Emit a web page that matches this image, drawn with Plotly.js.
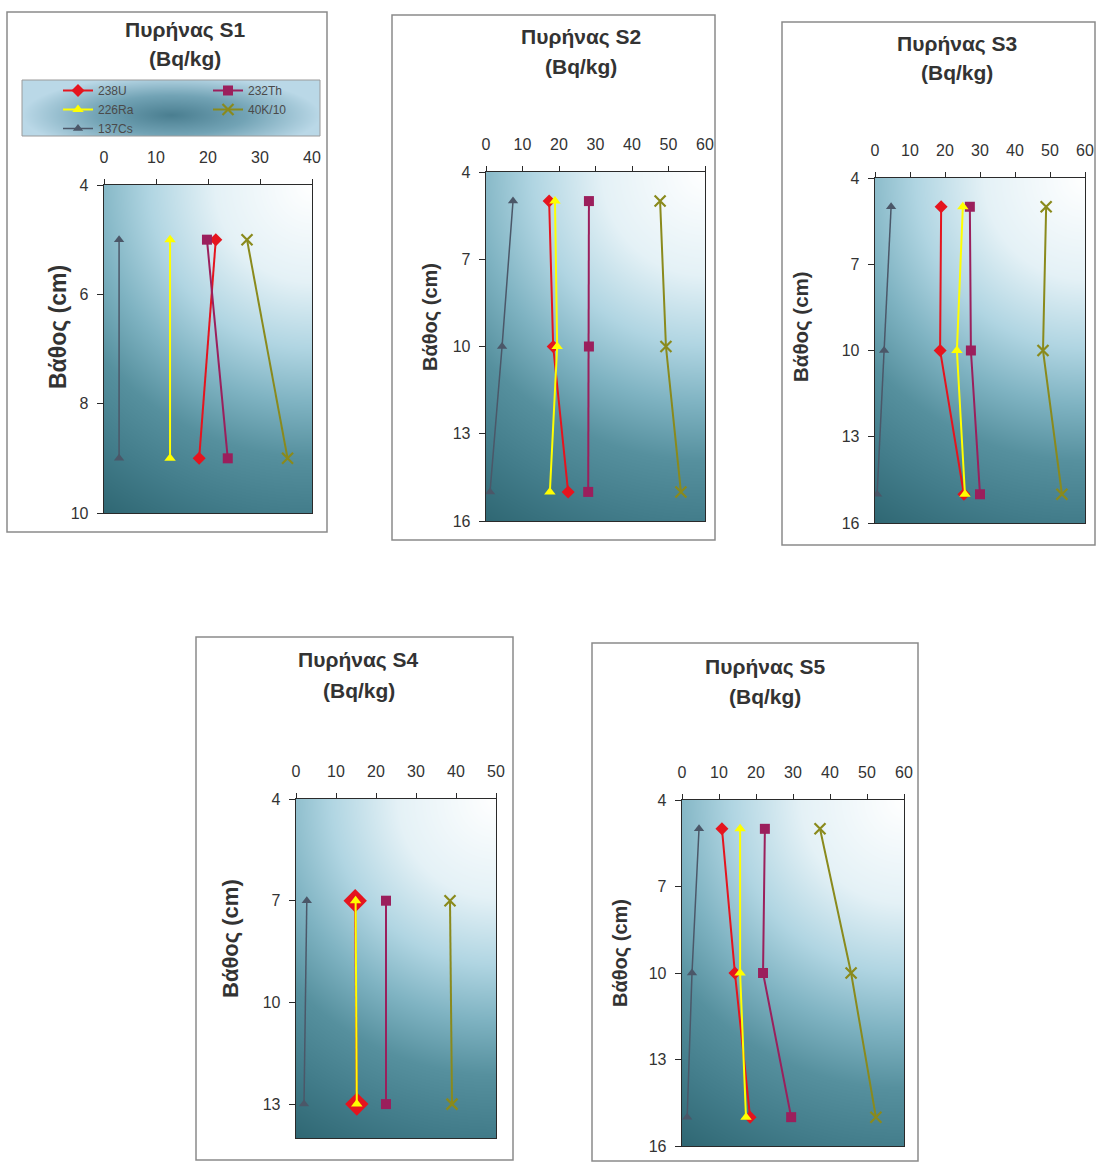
<!DOCTYPE html>
<html>
<head>
<meta charset="utf-8">
<script src="https://cdn.plot.ly/plotly-3.0.1.min.js"></script>
<style>
html,body{margin:0;padding:0;background:#ffffff;}
#chart{width:1097px;height:1162px;}
</style>
</head>
<body>
<div id="chart"></div>
<script>
// ---------------- DATA ----------------
const seriesNames = ["238U", "232Th", "226Ra", "40K/10", "137Cs"];
const panelTitles = ["Πυρήνας S1", "Πυρήνας S2", "Πυρήνας S3", "Πυρήνας S4", "Πυρήνας S5"];
const unitLabel = "(Bq/kg)";
const depthTitle = "Βάθος (cm)";

// depths (cm)
const depthS1 = [5, 9];
const depthS2 = [5, 10, 15];
const depthS3 = [5, 10, 15];
const depthS4 = [7, 13];
const depthS5 = [5, 10, 15];

// activities (Bq/kg), 40K divided by 10
const u238S1 = [21.5, 18.3];
const th232S1 = [19.8, 23.8];
const ra226S1 = [12.7, 12.7];
const k40S1 = [27.5, 35.3];
const cs137S1 = [2.9, 2.9];

const u238S2 = [17.3, 18.4, 22.5];
const th232S2 = [28.2, 28.2, 28.0];
const ra226S2 = [18.9, 19.5, 17.5];
const k40S2 = [47.7, 49.3, 53.4];
const cs137S2 = [7.4, 4.4, 1.1];

const u238S3 = [18.9, 18.6, 25.4];
const th232S3 = [27.1, 27.4, 30.0];
const ra226S3 = [25.1, 23.4, 25.7];
const k40S3 = [48.9, 48.0, 53.4];
const cs137S3 = [4.6, 2.6, 0.6];

const u238S4 = [14.8, 15.2];
const th232S4 = [22.5, 22.5];
const ra226S4 = [14.9, 15.2];
const k40S4 = [38.5, 39.0];
const cs137S4 = [2.7, 2.0];

const u238S5 = [10.8, 14.3, 18.4];
const th232S5 = [22.4, 21.9, 29.5];
const ra226S5 = [15.7, 15.7, 17.3];
const k40S5 = [37.3, 45.7, 52.4];
const cs137S5 = [4.6, 2.7, 1.4];

// axis tick settings
const xMaxes = [40, 60, 60, 50, 60];
const yMaxes = [10, 16, 16, 14, 16];
const yTicksS1 = [4, 6, 8, 10];
const yTicksS2 = [4, 7, 10, 13, 16];
const yTicksS4 = [4, 7, 10, 13];

// ---------------- LAYOUT GEOMETRY (pixels) ----------------
const W = 1097, H = 1162;
const px = x => x / W;
const py = y => 1 - y / H;

const panels = [
  {box:[7,12,327,532],   plot:[104,185,312,513],  tcx:185, t1:30, t2:58, ytx:58,  yty:327, ytsize:23,
   depth:depthS1, vals:[u238S1, th232S1, ra226S1, k40S1, cs137S1], yticks:yTicksS1},
  {box:[392,15,715,540], plot:[486,172,705,521],  tcx:581, t1:37, t2:67, ytx:430, yty:317, ytsize:20,
   depth:depthS2, vals:[u238S2, th232S2, ra226S2, k40S2, cs137S2], yticks:yTicksS2},
  {box:[782,22,1095,545],plot:[875,178,1085,523], tcx:957, t1:44, t2:73, ytx:801, yty:327, ytsize:20.5,
   depth:depthS3, vals:[u238S3, th232S3, ra226S3, k40S3, cs137S3], yticks:yTicksS2},
  {box:[196,637,513,1160],plot:[296,799,496,1138],tcx:359, t1:660, t2:690, ytx:230, yty:939, ytsize:22,
   depth:depthS4, vals:[u238S4, th232S4, ra226S4, k40S4, cs137S4], yticks:yTicksS4},
  {box:[592,643,918,1161],plot:[682,800,904,1146],tcx:765, t1:667, t2:696, ytx:620, yty:953, ytsize:20,
   depth:depthS5, vals:[u238S5, th232S5, ra226S5, k40S5, cs137S5], yticks:yTicksS2}
];

const colors = ["#e5141e", "#9b1f5c", "#ffff00", "#8a8a1c", "#4b5768"];
const symbols = ["diamond", "square", "triangle-up", "x-thin-open", "triangle-up"];
const lineWidths = [2, 2, 2, 2, 1.5];
const legendOf = ["legend", "legend2", "legend", "legend2", "legend"];
const FONT = "Liberation Sans, Arial, sans-serif";

// ---------------- gradient images ----------------
function hexToRgb(h){ return [parseInt(h.slice(1,3),16), parseInt(h.slice(3,5),16), parseInt(h.slice(5,7),16)]; }
function interp(stops, t){
  if (t <= stops[0][0]) return hexToRgb(stops[0][1]);
  for (let i=1;i<stops.length;i++){
    if (t <= stops[i][0]){
      const a = hexToRgb(stops[i-1][1]), b = hexToRgb(stops[i][1]);
      const f = (t - stops[i-1][0]) / (stops[i][0] - stops[i-1][0]);
      return [0,1,2].map(k => Math.round(a[k] + (b[k]-a[k])*f));
    }
  }
  return hexToRgb(stops[stops.length-1][1]);
}
function makeImage(w, h, fn){
  const c = document.createElement("canvas");
  c.width = w; c.height = h;
  const ctx = c.getContext("2d");
  const img = ctx.createImageData(w, h);
  for (let y=0;y<h;y++){
    for (let x=0;x<w;x++){
      const col = fn(x, y, w, h);
      const i = (y*w + x)*4;
      img.data[i]=col[0]; img.data[i+1]=col[1]; img.data[i+2]=col[2]; img.data[i+3]=255;
    }
  }
  ctx.putImageData(img, 0, 0);
  return c.toDataURL("image/png");
}
const plotStops = [[0,"#ffffff"],[0.25,"#e4f1f6"],[0.42,"#b0d5e2"],[0.56,"#7fb3c2"],[0.7,"#56909e"],[0.85,"#427c8a"],[1,"#2f6773"]];
function plotGrad(x, y, w, h){
  const dx = w - x, dy = y;
  const r = Math.sqrt(dx*dx + dy*dy) / Math.sqrt(w*w + h*h);
  return interp(plotStops, r);
}
const legStops = [[0,"#4a7e90"],[0.5,"#72a3b5"],[1,"#bad8e7"]];
function legGrad(x, y, w, h){
  const t = Math.sqrt(Math.pow((x - 0.5*w)/(0.5*w),2) + Math.pow((y - 0.62*h)/(0.7*h),2));
  return interp(legStops, Math.min(1,t));
}

// ---------------- build figure ----------------
const traces = [];
const layout = {
  width: W, height: H, autosize: false,
  margin: {l:0, r:0, t:0, b:0},
  paper_bgcolor: "#ffffff",
  plot_bgcolor: "rgba(0,0,0,0)",
  font: {family: FONT, color: "#333333"},
  showlegend: true,
  shapes: [], annotations: [], images: []
};

panels.forEach((p, i) => {
  const n = i + 1;
  const xa = n === 1 ? "x" : "x" + n;
  const ya = n === 1 ? "y" : "y" + n;
  const [bx0, by0, bx1, by1] = p.box;
  const [x0, y0, x1, y1] = p.plot;

  layout[n === 1 ? "xaxis" : "xaxis" + n] = {
    domain: [px(x0), px(x1)], range: [0, xMaxes[i]], dtick: 10, side: "top", anchor: ya,
    showgrid: false, zeroline: false, showline: true, linecolor: "#2a2a2a", linewidth: 1.3, mirror: true,
    ticks: "outside", ticklen: 5, tickcolor: "#2a2a2a", ticklabelstandoff: 9,
    tickfont: {family: FONT, size: 16, color: "#333333"}, fixedrange: true
  };
  layout[n === 1 ? "yaxis" : "yaxis" + n] = {
    domain: [py(y1), py(y0)], range: [yMaxes[i], 4], tickvals: p.yticks, anchor: xa,
    showgrid: false, zeroline: false, showline: true, linecolor: "#2a2a2a", linewidth: 1.3, mirror: true,
    ticks: "outside", ticklen: 6, tickcolor: "#2a2a2a", ticklabelstandoff: 5,
    tickfont: {family: FONT, size: 16, color: "#333333"}, fixedrange: true
  };

  // panel frame
  layout.shapes.push({type:"rect", xref:"paper", yref:"paper", x0:px(bx0), x1:px(bx1), y0:py(by1), y1:py(by0),
    line:{color:"#8a8a8a", width:1.5}, fillcolor:"rgba(0,0,0,0)", layer:"below"});

  // gradient background of plot area
  layout.images.push({source: makeImage(x1-x0, y1-y0, plotGrad), xref:"paper", yref:"paper",
    x:px(x0), y:py(y0), sizex:px(x1)-px(x0), sizey:py(y0)-py(y1), sizing:"stretch",
    xanchor:"left", yanchor:"top", layer:"below"});

  // titles
  layout.annotations.push({text:"<b>"+panelTitles[i]+"</b>", xref:"paper", yref:"paper", x:px(p.tcx), y:py(p.t1),
    showarrow:false, font:{family:FONT, size:21, color:"#333333"}, xanchor:"center", yanchor:"middle"});
  layout.annotations.push({text:"<b>"+unitLabel+"</b>", xref:"paper", yref:"paper", x:px(p.tcx), y:py(p.t2),
    showarrow:false, font:{family:FONT, size:21, color:"#333333"}, xanchor:"center", yanchor:"middle"});
  layout.annotations.push({text:"<b>"+depthTitle+"</b>", xref:"paper", yref:"paper", x:px(p.ytx), y:py(p.yty),
    showarrow:false, textangle:-90, font:{family:FONT, size:p.ytsize, color:"#333333"}, xanchor:"center", yanchor:"middle"});

  // series
  p.vals.forEach((v, s) => {
    let msize = 10;
    if (s === 0 && i === 3) msize = 18;
    if (s === 3) msize = 11;
    if (s === 4) msize = 9;
    traces.push({
      type: "scatter", mode: "lines+markers", x: v, y: p.depth, xaxis: xa, yaxis: ya,
      name: seriesNames[s], showlegend: i === 0, legend: legendOf[s],
      line: {color: colors[s], width: lineWidths[s]},
      marker: {symbol: symbols[s], size: msize, color: colors[s],
               line: {color: colors[s], width: s === 3 ? 2.2 : 0}},
      hoverinfo: "x+y"
    });
  });
});

// legend box (S1)
const lb = [22, 80, 320, 136];
layout.images.push({source: makeImage(lb[2]-lb[0], lb[3]-lb[1], legGrad), xref:"paper", yref:"paper",
  x:px(lb[0]), y:py(lb[1]), sizex:px(lb[2])-px(lb[0]), sizey:py(lb[1])-py(lb[3]), sizing:"stretch",
  xanchor:"left", yanchor:"top", layer:"below"});
layout.shapes.push({type:"rect", xref:"paper", yref:"paper", x0:px(lb[0]), x1:px(lb[2]), y0:py(lb[3]), y1:py(lb[1]),
  line:{color:"#9a9a9a", width:1}, fillcolor:"rgba(0,0,0,0)", layer:"below"});

const legendCommon = {bgcolor:"rgba(0,0,0,0)", borderwidth:0, orientation:"v", tracegroupgap:0,
  font:{family:FONT, size:12, color:"#4a4a4a"}, xanchor:"left", yanchor:"top", itemclick:false, itemdoubleclick:false};
layout.legend = Object.assign({}, legendCommon, {x: px(58), y: py(76)});
layout.legend2 = Object.assign({}, legendCommon, {x: px(208), y: py(76)});

Plotly.newPlot("chart", traces, layout, {displayModeBar: false, staticPlot: true});
</script>
</body>
</html>
